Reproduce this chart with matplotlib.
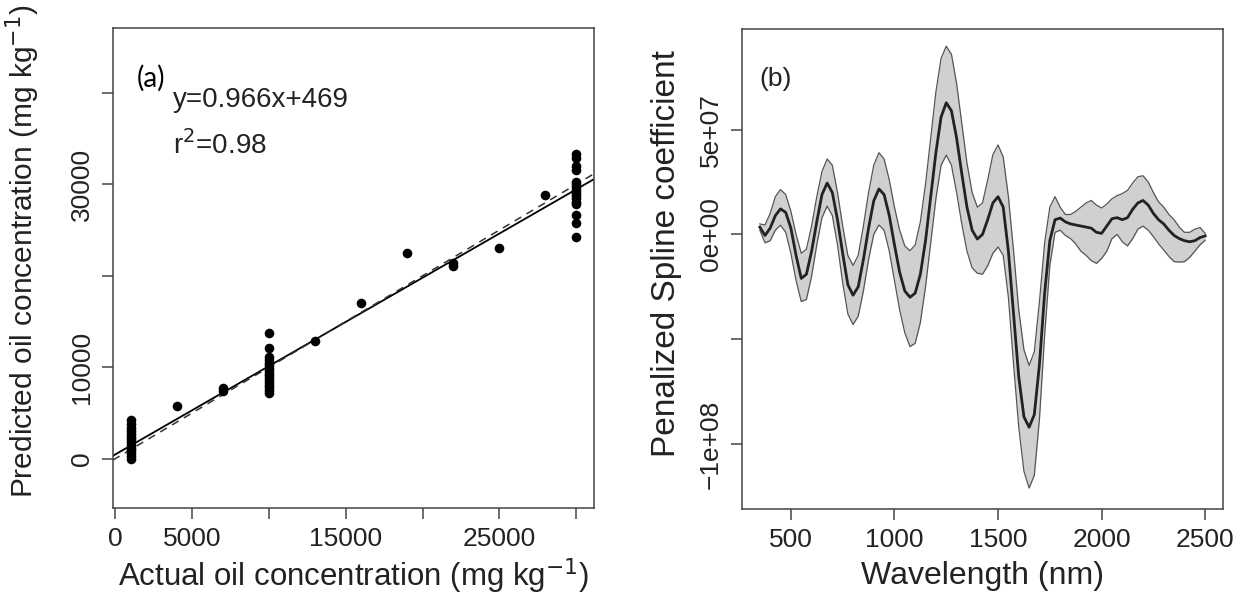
import matplotlib
matplotlib.use("Agg")
import matplotlib.pyplot as plt
import numpy as np

plt.rcParams["font.family"] = ["Liberation Sans", "DejaVu Sans"]

# panel (a): actual vs predicted oil concentration
actual = [1000] * 14 + [4000, 7000, 7000] + [10000] * 16 + [13000, 16000, 19000, 22000, 22000, 25000, 28000] + [30000] * 16
predicted = [4200, 3800, 3400, 3000, 2700, 2400, 2100, 1800, 1500, 1200, 900, 600, 300, 0,
             5800, 7700, 7400,
             13700, 12100, 11100, 10800, 10500, 10200, 9900, 9600, 9300, 9000, 8700, 8400, 8100, 7800, 7500, 7200,
             12900, 17000, 22500, 21100, 21400, 23000, 28800,
             33300, 32900, 32000, 31600, 30300, 30000, 29700, 29400, 29100, 28800, 28500, 28100, 27800, 26600, 25800, 24200]
fit_slope = 0.966
fit_intercept = 469

# panel (b): penalized spline coefficient (units of 1e7)
wavelength = list(range(350, 2501, 25))
coef_mid = [0.35, -0.05, 0.3, 0.9, 1.22, 1.05, 0.3, -1.0, -2.1, -1.9, -0.8, 0.6, 1.9, 2.45, 2.0, 0.7,
            -0.9, -2.4, -2.9, -2.5, -1.2, 0.3, 1.6, 2.17, 1.9, 0.9, -0.5, -1.8, -2.7, -3.0, -2.8, -1.9,
            -0.3, 1.8, 3.9, 5.6, 6.28, 5.9, 4.6, 2.9, 1.3, 0.2, -0.22, 0.0, 0.7, 1.5, 1.8, 1.3,
            -0.8, -3.8, -6.8, -8.7, -9.2, -8.6, -6.2, -2.8, -0.3, 0.7, 0.78, 0.6, 0.5, 0.45, 0.4, 0.35,
            0.3, 0.1, 0.05, 0.4, 0.75, 0.8, 0.7, 0.8, 1.2, 1.5, 1.62, 1.4, 1.0, 0.7, 0.5, 0.2,
            -0.05, -0.2, -0.3, -0.35, -0.3, -0.15, -0.07]
coef_upper = [0.5, 0.45, 1.0, 1.8, 2.14, 1.9, 1.1, 0.0, -0.9, -0.7, 0.4, 1.8, 3.0, 3.6, 3.3, 2.0,
              0.4, -1.0, -1.48, -1.0, 0.4, 2.0, 3.3, 3.9, 3.6, 2.6, 1.3, 0.2, -0.55, -0.78, -0.5, 0.6,
              2.4, 4.6, 6.8, 8.4, 8.98, 8.6, 7.2, 5.3, 3.4, 2.0, 1.3, 1.5, 2.6, 3.8, 4.27, 3.7,
              1.8, -0.8, -3.6, -5.5, -6.25, -5.6, -3.2, -0.4, 1.3, 1.8, 1.3, 0.95, 0.95, 1.1, 1.3, 1.5,
              1.62, 1.4, 1.26, 1.45, 1.7, 1.85, 1.95, 2.1, 2.45, 2.75, 2.8, 2.5, 2.0, 1.55, 1.3, 0.95,
              0.7, 0.35, 0.1, 0.1, 0.25, 0.33, 0.05]
coef_lower = [0.2, -0.4, -0.3, 0.2, 0.44, 0.1, -0.9, -2.2, -3.2, -3.1, -2.0, -0.5, 0.8, 1.35, 0.9, -0.5,
              -2.3, -3.8, -4.3, -3.9, -2.7, -1.2, 0.0, 0.45, 0.2, -0.8, -2.2, -3.6, -4.7, -5.35, -5.2, -4.2,
              -2.5, -0.4, 1.7, 3.3, 3.78, 3.3, 2.0, 0.5, -0.8, -1.6, -1.85, -1.9, -1.5, -0.9, -0.6, -1.0,
              -3.0, -6.2, -9.2, -11.3, -12.1, -11.5, -8.8, -4.8, -1.5, 0.1, 0.2, -0.05, -0.2, -0.45, -0.8, -1.0,
              -1.25, -1.38, -1.15, -0.8, -0.2, 0.0, -0.35, -0.55, -0.2, 0.25, 0.4, 0.2, -0.1, -0.45, -0.75, -1.05,
              -1.3, -1.32, -1.3, -1.1, -0.8, -0.5, -0.28]

TICK_FS = 19
FRAME = "#444444"
TXT = "#222222"

fig = plt.figure(figsize=(12.53, 6.01), dpi=100)
ax1 = fig.add_axes([113 / 1253, 1 - 508 / 601, 481 / 1253, 480 / 601])
ax2 = fig.add_axes([742 / 1253, 1 - 509 / 601, 481 / 1253, 480 / 601])

for ax in (ax1, ax2):
    for s in ax.spines.values():
        s.set_color(FRAME)
        s.set_linewidth(1.1)
    ax.tick_params(direction="out", length=8, width=1.1, color=FRAME,
                   labelsize=TICK_FS, pad=6, labelcolor=TXT)
    ax.tick_params(axis="y", labelrotation=90)

# (a)
ax1.scatter(actual, predicted, s=48, color="black", zorder=3, linewidths=0)
xl = np.array([-160, 31160])
ax1.plot(xl, fit_slope * xl + fit_intercept, color="black", lw=1.3)
ax1.plot(xl, xl, color="#333333", lw=1.1, ls=(0, (5, 4)))
ax1.set_xlim(-160, 31160)
ax1.set_ylim(-5400, 47100)
ax1.set_xticks(range(0, 30001, 5000))
ax1.set_xticklabels(["0", "5000", "", "15000", "", "25000", ""])
ax1.set_yticks(range(0, 40001, 10000))
ax1.set_yticklabels(["0", "10000", "", "30000", ""])
for t in ax1.get_yticklabels():
    t.set_va("center")
ax1.set_xlabel("Actual oil concentration (mg kg$^{-1}$)", fontsize=22.5, color=TXT, labelpad=4)
ax1.set_ylabel("Predicted oil concentration (mg kg$^{-1}$)", fontsize=21.5, color=TXT)
ax1.yaxis.set_label_coords(-0.147, 0.535)
ax1.text(0.05, 0.896, "(a)", transform=ax1.transAxes, fontsize=20, family="Lato", va="center", ha="left")
ax1.text(0.125, 0.85, "y=0.966x+469", transform=ax1.transAxes, fontsize=20, va="center", ha="left", color=TXT)
ax1.text(0.125, 0.756, "r$^2$=0.98", transform=ax1.transAxes, fontsize=20, va="center", ha="left", color=TXT)

# (b)
wl = np.array(wavelength)
mid = np.array(coef_mid) * 1e7
up = np.array(coef_upper) * 1e7
lo = np.array(coef_lower) * 1e7
ax2.fill_between(wl, lo, up, color="#d0d0d0", lw=0)
ax2.plot(wl, up, color="#555555", lw=0.9)
ax2.plot(wl, lo, color="#555555", lw=0.9)
ax2.plot(wl, mid, color=TXT, lw=2.0)
ax2.set_xlim(264, 2586)
ax2.set_ylim(-1.31e8, 9.8e7)
ax2.set_xticks([500, 1000, 1500, 2000, 2500])
ax2.set_yticks([-1e8, -5e7, 0, 5e7])
ax2.set_yticklabels(["\u22121e+08", "", "0e+00", "5e+07"])
for t in ax2.get_yticklabels():
    t.set_va("center")
ax2.set_xlabel("Wavelength (nm)", fontsize=23, color=TXT, labelpad=6)
ax2.set_ylabel("Penalized Spline coefficient", fontsize=24, color=TXT)
ax2.yaxis.set_label_coords(-0.125, 0.533)
ax2.text(0.037, 0.896, "(b)", transform=ax2.transAxes, fontsize=19, va="center", ha="left", color=TXT)

fig.savefig("out.png", dpi=100)
